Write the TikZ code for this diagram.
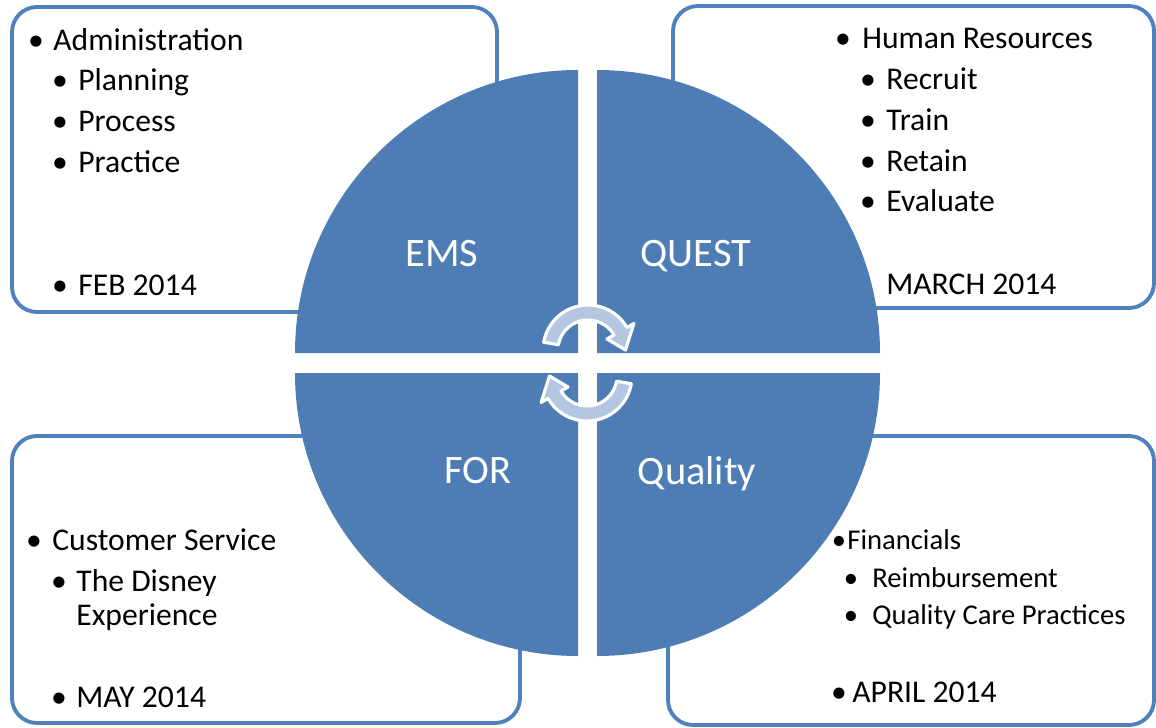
\documentclass[tikz,border=0pt]{standalone}
\usepackage{fontspec}
\setmainfont{Carlito}
\definecolor{boxblue}{RGB}{79,129,189}
\definecolor{quadblue}{RGB}{78,125,182}
\definecolor{spinblue}{RGB}{180,198,224}

\begin{document}
\begin{tikzpicture}[
	panel/.style={draw=boxblue, line width=2.2pt, rounded corners=0.5cm},
	quad/.style={fill=quadblue},
	spin/.style={fill=spinblue, draw=white, line width=1.8pt, line join=round},
	txt/.style={anchor=base west, inner sep=0pt, font=\fontsize{18}{22}\selectfont},
	bul/.style={anchor=base, inner sep=0pt, font=\fontsize{18}{22}\selectfont},
	small/.style={font=\fontsize{16.3}{20}\selectfont},
	quadtxt/.style={anchor=base, inner sep=0pt, text=white, font=\fontsize{23}{28}\selectfont}]
	
	\useasboundingbox (0,0) rectangle (23.12,14.54);
	
	% the four boxes
	\draw[panel] (0.24,8.30) rectangle (9.94,14.40);
	\draw[panel] (13.46,8.38) rectangle (23.08,14.42);
	\draw[panel] (0.24,0.08) rectangle (10.40,5.82);
	\draw[panel] (13.36,0.04) rectangle (23.08,5.82);
	
	% the circle, cut in four
	\coordinate (cEMS) at (11.56,7.48);
	\coordinate (cQUEST) at (11.94,7.48);
	\coordinate (cFOR) at (11.56,7.08);
	\coordinate (cQUAL) at (11.94,7.08);
	\fill[quad] (cEMS) -- ++(180:5.66) arc[start angle=180, end angle=90, radius=5.66] -- cycle;
	\fill[quad] (cQUEST) -- ++(90:5.66) arc[start angle=90, end angle=0, radius=5.66] -- cycle;
	\fill[quad] (cQUAL) -- ++(0:5.66) arc[start angle=0, end angle=-90, radius=5.66] -- cycle;
	\fill[quad] (cFOR) -- ++(-90:5.66) arc[start angle=-90, end angle=-180, radius=5.66] -- cycle;
	
	\node[quadtxt] (EMS) at (8.84,9.20) {EMS};
	\node[quadtxt] (QUEST) at (13.92,9.20) {QUEST};
	\node[quadtxt] (FOR) at (9.56,4.88) {FOR};
	\node[quadtxt] (QUAL) at (13.94,4.86) {Quality};
	
	% turning arrows
	\begin{scope}[shift={(11.76,7.54)}]
		\filldraw[spin] (170:0.90) arc[start angle=170, end angle=30, radius=0.90] -- (30:1.06) -- (0:0.75) -- (30:0.44) -- (30:0.60) arc[start angle=30, end angle=170, radius=0.60] -- cycle;
	\end{scope}
	\begin{scope}[shift={(11.74,7.02)}]
		\filldraw[spin] (350:0.90) arc[start angle=350, end angle=210, radius=0.90] -- (210:1.06) -- (180:0.75) -- (210:0.44) -- (210:0.60) arc[start angle=210, end angle=350, radius=0.60] -- cycle;
	\end{scope}
	
	% top left
	\node[bul] (bAdm) at (0.72,13.52) {•};
	\node[txt] (tAdm) at (1.06,13.52) {Administration};
	\node[bul] (bPlan) at (1.20,12.72) {•};
	\node[txt] (tPlan) at (1.56,12.72) {Planning};
	\node[bul] (bProc) at (1.20,11.90) {•};
	\node[txt] (tProc) at (1.56,11.90) {Process};
	\node[bul] (bPrac) at (1.20,11.08) {•};
	\node[txt] (tPrac) at (1.56,11.08) {Practice};
	\node[bul] (bFeb) at (1.20,8.62) {•};
	\node[txt] (tFeb) at (1.56,8.62) {FEB 2014};
	
	% top right
	\node[bul] (bHR) at (16.86,13.56) {•};
	\node[txt] (tHR) at (17.24,13.56) {Human Resources};
	\node[bul] (bRecr) at (17.36,12.74) {•};
	\node[txt] (tRecr) at (17.72,12.74) {Recruit};
	\node[bul] (bTrain) at (17.36,11.92) {•};
	\node[txt] (tTrain) at (17.72,11.92) {Train};
	\node[bul] (bRet) at (17.36,11.10) {•};
	\node[txt] (tRet) at (17.72,11.10) {Retain};
	\node[bul] (bEval) at (17.36,10.30) {•};
	\node[txt] (tEval) at (17.72,10.30) {Evaluate};
	\node[txt] (tMar) at (17.72,8.64) {MARCH 2014};
	
	% bottom left
	\node[bul] (bCust) at (0.68,3.54) {•};
	\node[txt] (tCust) at (1.04,3.54) {Customer Service};
	\node[bul] (bDis) at (1.18,2.72) {•};
	\node[txt] (tDis) at (1.52,2.72) {The Disney};
	\node[txt] (tExp) at (1.52,2.04) {Experience};
	\node[bul] (bMay) at (1.18,0.40) {•};
	\node[txt] (tMay) at (1.52,0.40) {MAY 2014};
	
	% bottom right
	\node[bul, small] (bFin) at (16.78,3.56) {•};
	\node[txt, small] (tFin) at (16.94,3.56) {Financials};
	\node[bul, small] (bReim) at (17.02,2.80) {•};
	\node[txt, small] (tReim) at (17.44,2.80) {Reimbursement};
	\node[bul, small] (bQCP) at (17.02,2.06) {•};
	\node[txt, small] (tQCP) at (17.44,2.06) {Quality Care Practices};
	\node[bul] (bApr) at (16.78,0.50) {•};
	\node[txt] (tApr) at (17.04,0.50) {APRIL 2014};
	
\end{tikzpicture}
\end{document}
